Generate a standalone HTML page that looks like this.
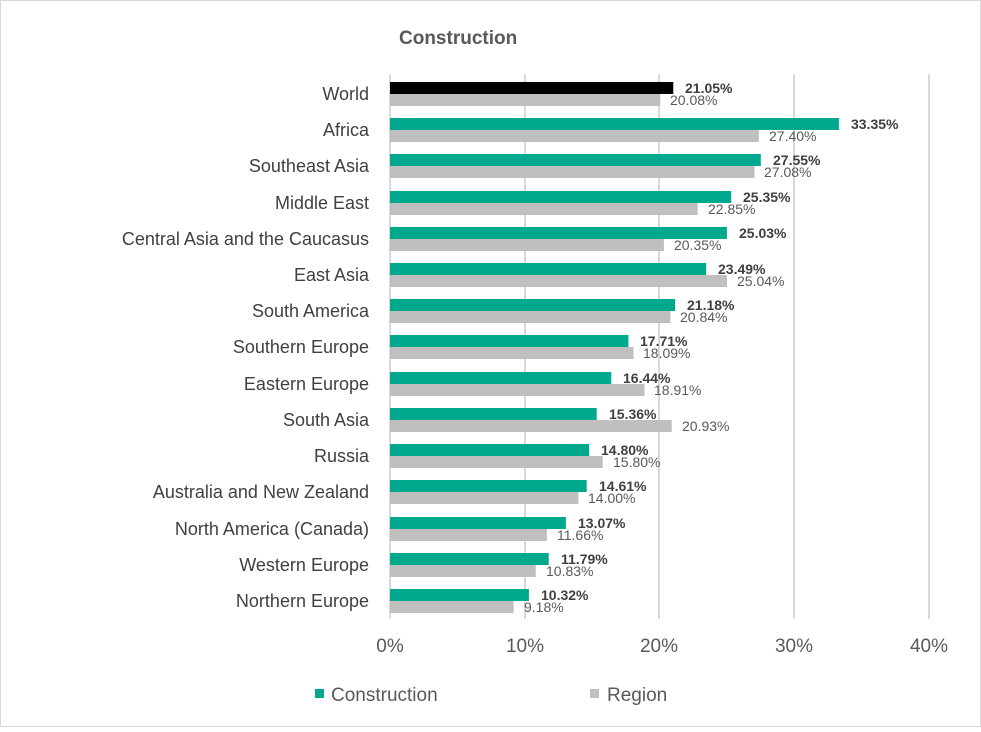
<!DOCTYPE html>
<html><head><style>
body{margin:0;background:#fff}
</style></head><body>
<svg width="981" height="727" xmlns="http://www.w3.org/2000/svg" font-family="Liberation Sans, sans-serif">
<rect x="0.5" y="0.5" width="980" height="726" fill="#fff" stroke="#d9d9d9"/>
<text x="399" y="44" font-size="19" font-weight="bold" fill="#595959">Construction</text>
<g stroke="#d9d9d9" stroke-width="2">
<line x1="390" y1="74" x2="390" y2="619"/><line x1="525" y1="74" x2="525" y2="619"/>
<line x1="659" y1="74" x2="659" y2="619"/><line x1="794" y1="74" x2="794" y2="619"/>
<line x1="929" y1="74" x2="929" y2="619"/>
</g>
<g font-size="18" fill="#404040" text-anchor="end">
<text x="369" y="100">World</text>
<text x="369" y="136">Africa</text>
<text x="369" y="172">Southeast Asia</text>
<text x="369" y="209">Middle East</text>
<text x="369" y="245">Central Asia and the Caucasus</text>
<text x="369" y="281">East Asia</text>
<text x="369" y="317">South America</text>
<text x="369" y="353">Southern Europe</text>
<text x="369" y="390">Eastern Europe</text>
<text x="369" y="426">South Asia</text>
<text x="369" y="462">Russia</text>
<text x="369" y="498">Australia and New Zealand</text>
<text x="369" y="535">North America (Canada)</text>
<text x="369" y="571">Western Europe</text>
<text x="369" y="607">Northern Europe</text>
</g>
<g fill="#00a88e">
<rect x="390" y="82" width="283.3" height="12" fill="#000"/>
<rect x="390" y="118" width="448.9" height="12"/>
<rect x="390" y="154" width="370.8" height="12"/>
<rect x="390" y="191" width="341.2" height="12"/>
<rect x="390" y="227" width="336.9" height="12"/>
<rect x="390" y="263" width="316.2" height="12"/>
<rect x="390" y="299" width="285.1" height="12"/>
<rect x="390" y="335" width="238.4" height="12"/>
<rect x="390" y="372" width="221.3" height="12"/>
<rect x="390" y="408" width="206.7" height="12"/>
<rect x="390" y="444" width="199.2" height="12"/>
<rect x="390" y="480" width="196.7" height="12"/>
<rect x="390" y="517" width="175.9" height="12"/>
<rect x="390" y="553" width="158.7" height="12"/>
<rect x="390" y="589" width="138.9" height="12"/>
</g>
<g fill="#bfbfbf">
<rect x="390" y="94" width="270.3" height="12"/>
<rect x="390" y="130" width="368.8" height="12"/>
<rect x="390" y="166" width="364.5" height="12"/>
<rect x="390" y="203" width="307.6" height="12"/>
<rect x="390" y="239" width="273.9" height="12"/>
<rect x="390" y="275" width="337.0" height="12"/>
<rect x="390" y="311" width="280.5" height="12"/>
<rect x="390" y="347" width="243.5" height="12"/>
<rect x="390" y="384" width="254.5" height="12"/>
<rect x="390" y="420" width="281.7" height="12"/>
<rect x="390" y="456" width="212.7" height="12"/>
<rect x="390" y="492" width="188.4" height="12"/>
<rect x="390" y="529" width="156.9" height="12"/>
<rect x="390" y="565" width="145.8" height="12"/>
<rect x="390" y="601" width="123.6" height="12"/>
</g>
<g font-size="14" font-weight="bold" fill="#404040">
<text x="685" y="93">21.05%</text>
<text x="851" y="129">33.35%</text>
<text x="773" y="165">27.55%</text>
<text x="743" y="202">25.35%</text>
<text x="739" y="238">25.03%</text>
<text x="718" y="274">23.49%</text>
<text x="687" y="310">21.18%</text>
<text x="640" y="346">17.71%</text>
<text x="623" y="383">16.44%</text>
<text x="609" y="419">15.36%</text>
<text x="601" y="455">14.80%</text>
<text x="599" y="491">14.61%</text>
<text x="578" y="528">13.07%</text>
<text x="561" y="564">11.79%</text>
<text x="541" y="600">10.32%</text>
</g>
<g font-size="14" fill="#595959">
<text x="670" y="105">20.08%</text>
<text x="769" y="141">27.40%</text>
<text x="764" y="177">27.08%</text>
<text x="708" y="214">22.85%</text>
<text x="674" y="250">20.35%</text>
<text x="737" y="286">25.04%</text>
<text x="680" y="322">20.84%</text>
<text x="643" y="358">18.09%</text>
<text x="654" y="395">18.91%</text>
<text x="682" y="431">20.93%</text>
<text x="613" y="467">15.80%</text>
<text x="588" y="503">14.00%</text>
<text x="557" y="540">11.66%</text>
<text x="546" y="576">10.83%</text>
<text x="524" y="612">9.18%</text>
</g>
<g font-size="19" fill="#595959" text-anchor="middle">
<text x="390" y="652">0%</text><text x="525" y="652">10%</text><text x="659" y="652">20%</text><text x="794" y="652">30%</text><text x="929" y="652">40%</text>
</g>
<rect x="315" y="689" width="9" height="9" fill="#00a88e"/>
<text x="331" y="701" font-size="19" fill="#595959">Construction</text>
<rect x="590" y="689" width="9" height="9" fill="#bfbfbf"/>
<text x="607" y="701" font-size="19" fill="#595959">Region</text>
</svg>
</body></html>
